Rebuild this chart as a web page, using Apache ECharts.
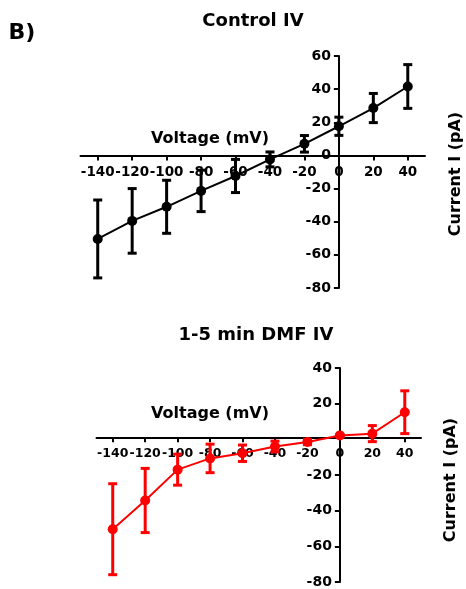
<!DOCTYPE html>
<html>
<head>
<meta charset="utf-8">
<script src="https://cdn.jsdelivr.net/npm/echarts@6/dist/echarts.min.js"></script>
<style>
  html, body { margin: 0; padding: 0; background: #fff; }
  #ivChart { width: 466px; height: 589px; }
</style>
</head>
<body>
<div id="ivChart"></div>
<script>
var voltages = [-140, -120, -100, -80, -60, -40, -20, 0, 20, 40];
var xTicks = [-140, -120, -100, -80, -60, -40, -20, 0, 20, 40];
var xMin = -150, xMax = 50;

// Control IV: mean current and error (pA)
var controlMean = [-50.4, -39.5, -31, -21.4, -12.4, -2.4, 7, 17.6, 28.6, 41.6];
var controlErr = [23.5, 19.5, 16, 12.5, 10, 4.5, 5, 5.5, 8.8, 13.2];
var controlYTicks = [-80, -60, -40, -20, 0, 20, 40, 60];

// 1-5 min DMF IV
var dmfMean = [-50.4, -34.3, -17, -10.7, -7.8, -4, -1.5, 2.2, 3.2, 15.2];
var dmfErr = [25.5, 18, 8.7, 8, 4.6, 3, 1.5, 0.5, 4.5, 12];
var dmfYTicks = [-80, -60, -40, -20, 20, 40];

var FONT = 'DejaVu Sans';

var grids = [
    { left: 80.5, right: 41, top: 56, height: 232, yMin: -80, yMax: 60, xFont: 13.5 },
    { left: 96.5, right: 45, top: 368, height: 217, yMin: -80, yMax: 40, xFont: 12.5 }
];

var dom = document.getElementById('ivChart');
var myChart = echarts.init(dom);

function pairs(means) {
    return voltages.map(function (v, i) { return [v, means[i]]; });
}
function bars(means, errs) {
    return voltages.map(function (v, i) {
        return [v, means[i], means[i] - errs[i], means[i] + errs[i]];
    });
}

function errorBar(color) {
    return function (params, api) {
        var lo = api.coord([api.value(0), api.value(2)]);
        var hi = api.coord([api.value(0), api.value(3)]);
        var w = 4.5;
        var st = { stroke: color, lineWidth: 3 };
        return {
            type: 'group',
            children: [
                { type: 'line', shape: { x1: hi[0], y1: hi[1], x2: lo[0], y2: lo[1] }, style: st },
                { type: 'line', shape: { x1: hi[0] - w, y1: hi[1], x2: hi[0] + w, y2: hi[1] }, style: st },
                { type: 'line', shape: { x1: lo[0] - w, y1: lo[1], x2: lo[0] + w, y2: lo[1] }, style: st }
            ]
        };
    };
}

// axes cross at (0,0): shift each axis into the grid by where zero falls
function xAxisFor(idx) {
    var g = grids[idx];
    var zeroFromBottom = g.height * (0 - g.yMin) / (g.yMax - g.yMin);
    return {
        type: 'value', gridIndex: idx, min: xMin, max: xMax,
        position: 'bottom', offset: -zeroFromBottom,
        axisLine: { onZero: false, lineStyle: { color: '#000', width: 2 } },
        axisTick: { customValues: xTicks, length: 5, lineStyle: { color: '#000', width: 2 } },
        axisLabel: {
            customValues: xTicks, color: '#000', fontFamily: FONT, fontWeight: 'bold',
            fontSize: g.xFont, margin: 10, hideOverlap: false, showMinLabel: true, showMaxLabel: true
        },
        splitLine: { show: false }
    };
}
function yAxisFor(idx, ticks) {
    var g = grids[idx];
    var width = 466 - g.left - g.right;
    var zeroFromLeft = width * (0 - xMin) / (xMax - xMin);
    return {
        type: 'value', gridIndex: idx, min: g.yMin, max: g.yMax,
        position: 'left', offset: -zeroFromLeft,
        axisLine: { show: true, onZero: false, lineStyle: { color: '#000', width: 2 } },
        axisTick: { show: true, customValues: ticks, length: 5, lineStyle: { color: '#000', width: 2 } },
        axisLabel: {
            customValues: ticks, color: '#000', fontFamily: FONT, fontWeight: 'bold',
            fontSize: 14, margin: 8, hideOverlap: false
        },
        splitLine: { show: false }
    };
}

function label(text, x, y, size, rotate) {
    return {
        type: 'text', x: x, y: y, rotation: rotate || 0,
        style: {
            text: text, fill: '#000', font: 'bold ' + size + 'px "' + FONT + '"',
            textAlign: 'center', textVerticalAlign: 'middle'
        }
    };
}

option = {
    animation: false,
    grid: grids.map(function (g) {
        return { left: g.left, right: g.right, top: g.top, height: g.height };
    }),
    xAxis: [xAxisFor(0), xAxisFor(1)],
    yAxis: [yAxisFor(0, controlYTicks), yAxisFor(1, dmfYTicks)],
    graphic: [
        label('B)', 22, 33, 22),
        label('Control IV', 253, 21, 18),
        label('1-5 min DMF IV', 256, 335, 18),
        label('Voltage (mV)', 210, 139, 16),
        label('Voltage (mV)', 210, 414, 16),
        label('Current I (pA)', 456, 174, 16, Math.PI / 2),
        label('Current I (pA)', 451, 480, 16, Math.PI / 2)
    ],
    series: [
        {
            name: 'Control', type: 'line', xAxisIndex: 0, yAxisIndex: 0,
            data: pairs(controlMean), symbol: 'circle', symbolSize: 10,
            lineStyle: { color: '#000', width: 2 }, itemStyle: { color: '#000' }, z: 3
        },
        {
            name: 'Control err', type: 'custom', xAxisIndex: 0, yAxisIndex: 0,
            data: bars(controlMean, controlErr), encode: { x: 0, y: [1, 2, 3] },
            renderItem: errorBar('#000'), z: 4
        },
        {
            name: 'DMF', type: 'line', xAxisIndex: 1, yAxisIndex: 1,
            data: pairs(dmfMean), symbol: 'circle', symbolSize: 10,
            lineStyle: { color: '#f00', width: 2 }, itemStyle: { color: '#f00' }, z: 3
        },
        {
            name: 'DMF err', type: 'custom', xAxisIndex: 1, yAxisIndex: 1,
            data: bars(dmfMean, dmfErr), encode: { x: 0, y: [1, 2, 3] },
            renderItem: errorBar('#f00'), z: 4
        }
    ]
};
if (option && typeof option === "object") {
    myChart.setOption(option, true);
}
</script>
</body>
</html>
